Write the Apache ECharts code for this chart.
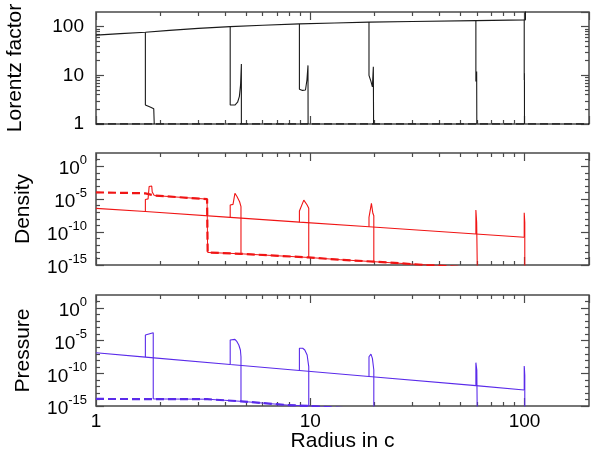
<!DOCTYPE html>
<html><head><meta charset="utf-8">
<script src="https://cdn.jsdelivr.net/npm/echarts@6/dist/echarts.min.js"></script>
<style>html,body{margin:0;padding:0;background:#fff}#c{width:609px;height:457px}</style>
</head><body><div id="c"></div>
<script>
// ---------------- data ----------------
const radiusRange = [1, 200];
const radiusMajorTicks = [1, 10, 100];
const minorMultipliers = [2, 3, 4, 5, 6, 7, 8, 9];
const lorentzRange = [1, 200];
const lorentzMajorTicks = [1, 10, 100];
const powerRange = [-15, 2];            // exponent range of density / pressure axes
const powerLabels = [-15, -10, -5, 0];

// Lorentz factor: wind profile (solid), shells (solid), ambient (dashed)
const lorentzWind = [[1,67],[1.3,72],[1.7,77],[2.2,84],[3,92],[4.23,100],[6,107],[8.9,114],[13,119],[18.8,124],[30,128],[59.3,133],[101,138],[101,400]];
const lorentzShells = [
  [[1.70,77],[1.70,2.45],[1.73,2.3],[1.80,2.2],[1.86,2.05],[1.87,1]],
  [[4.23,100],[4.23,2.45],[4.32,2.33],[4.45,2.45],[4.58,2.8],[4.67,3.7],[4.73,6.5],[4.77,17],[4.77,1]],
  [[8.9,114],[8.9,5.2],[9.2,4.9],[9.35,4.5],[9.5,5.0],[9.65,8.0],[9.76,16],[9.77,1]],
  [[18.8,124],[18.8,10],[19.2,7.5],[19.5,5.8],[19.7,15],[19.75,1]],
  [[59.3,133],[59.3,7.5],[59.6,9],[59.8,12],[59.9,1]],
  [[99.7,138],[99.7,8],[99.9,11],[100,1]]
];
const lorentzAmbient = [[1,1],[200,1]];

// Density
const densityWind = [[1,4.0e-7],[1.7,1.3e-7],[4.23,1.7e-8],[8.9,3.2e-9],[18.8,6.3e-10],[59.3,5.0e-11],[99.7,1.6e-11]];
const densityShells = [
  [[1.70,1.3e-7],[1.70,9e-6],[1.75,1.1e-5],[1.77,8e-4],[1.79,1.1e-3],[1.82,1.0e-3],[1.83,1.2e-4],[1.87,3.5e-5]],
  [[4.23,1.7e-8],[4.23,1.3e-6],[4.36,1.6e-6],[4.45,7.6e-5],[4.55,2.5e-5],[4.68,4e-6],[4.75,7e-7],[4.75,5e-14]],
  [[8.9,3.2e-9],[8.9,1.6e-7],[9.07,2.2e-7],[9.33,7e-6],[9.67,1.3e-6],[9.84,4e-7],[9.84,1.4e-14]],
  [[18.8,6.3e-10],[18.8,1.7e-8],[19.0,2.2e-8],[19.3,2.3e-6],[19.6,7e-8],[19.8,3e-8],[19.8,3.2e-15]],
  [[59.3,5e-11],[59.3,2.2e-7],[59.5,1.5e-7],[59.8,3e-9],[60.2,3e-9],[60.2,4e-16]],
  [[99.7,1.6e-11],[99.7,8.7e-8],[99.9,5e-8],[100.3,3e-9],[100.3,1e-16]]
];
const densityAmbient = [[1,1.07e-4],[1.7,7.6e-5],[1.87,3.5e-5],[3.3,1.0e-5],[3.32,8e-14],[4.75,5e-14],[9.8,1.4e-14],[13.8,6.3e-15],[19.8,3.2e-15],[35,1.0e-15],[200,4e-17]];

// Pressure
const pressureWind = [[1,1.4e-7],[1.7,3.1e-8],[4.23,2.3e-9],[8.9,2.8e-10],[18.8,3.3e-11],[59.3,1.3e-12],[99.7,2.8e-13]];
const pressureShells = [
  [[1.70,3.1e-8],[1.70,7.4e-5],[1.72,1.2e-4],[1.85,1.65e-4],[1.85,1.2e-14]],
  [[4.23,2.3e-9],[4.23,1.3e-5],[4.32,1.8e-5],[4.45,1.6e-5],[4.55,7e-6],[4.64,2.2e-6],[4.72,3.8e-7],[4.75,3.5e-8],[4.75,5.2e-15]],
  [[8.9,2.8e-10],[8.9,6.9e-7],[9.22,6.9e-7],[9.43,3.8e-7],[9.67,6.5e-8],[9.84,1.05e-9],[9.84,1.0e-15]],
  [[18.8,3.3e-11],[18.8,3.5e-8],[19.0,6.5e-8],[19.2,9e-8],[19.5,2e-8],[19.8,3.2e-10],[19.8,1e-16]],
  [[59.3,1.3e-12],[59.3,4.3e-9],[59.6,2.5e-9],[59.9,3.2e-10],[60.2,2e-10],[60.2,1e-17]],
  [[99.7,2.8e-13],[99.7,1.35e-9],[99.9,6e-10],[100.3,5e-11],[100.3,1e-17]]
];
const pressureAmbient = [[1,1.2e-14],[3.3,1.1e-14],[3.35,7.4e-15],[4.75,5.2e-15],[7.8,1.4e-15],[9.84,1.0e-15],[200,3e-18]];

// ---------------- chart ----------------
const FONT = 'Liberation Sans';
const FRAME = '#4a4a4a';
const TICK = {color: FRAME, width: 1.2};
const log10 = v => Math.log(v) / Math.LN10;

function minorLogTicks(range) {
  const out = [];
  const lo = log10(range[0]), hi = log10(range[1]);
  for (let d = Math.floor(lo); d < Math.ceil(hi); d++) {
    minorMultipliers.forEach(m => {
      const v = d + log10(m);
      if (v > lo + 1e-9 && v < hi - 1e-9) out.push(v);
    });
  }
  return out;
}
const radiusMinor = minorLogTicks(radiusRange);
const lorentzMinor = minorLogTicks(lorentzRange);
const powerMinor = [];
for (let p = powerRange[0] + 1; p < powerRange[1]; p++) if (!powerLabels.includes(p)) powerMinor.push(p);

const grids = [
  {left: 96, right: 20, top: 12, height: 112},
  {left: 96, right: 20, top: 153, height: 112},
  {left: 96, right: 20, top: 295, height: 111}
].map(g => Object.assign(g, {show: true, borderColor: FRAME, borderWidth: 1.5, backgroundColor: 'transparent', containLabel: false, outerBoundsMode: 'none'}));

const xAxes = [], yAxes = [], series = [];
const hidden = {axisLine: {show: false, onZero: false}, splitLine: {show: false}, minorTick: {show: false}, minorSplitLine: {show: false}};
const nameStyle = {fontSize: 21, fontFamily: FONT, color: '#000'};

function addX(o) { xAxes.push(Object.assign({}, hidden, o)); return xAxes.length - 1; }
function addY(o) { yAxes.push(Object.assign({}, hidden, o)); return yAxes.length - 1; }

const mainX = [];
for (let g = 0; g < 3; g++) {
  ['bottom', 'top'].forEach(pos => {
    const idx = addX({
      gridIndex: g, type: 'log', logBase: 10, min: radiusRange[0], max: radiusRange[1], position: pos,
      axisTick: {show: true, inside: true, length: 8, lineStyle: TICK},
      axisLabel: {show: g === 2 && pos === 'bottom', margin: 6, fontSize: 19, fontFamily: FONT, color: '#000',
        showMaxLabel: false, formatter: v => radiusMajorTicks.includes(v) ? String(v) : ''},
      name: (g === 2 && pos === 'bottom') ? 'Radius in c' : '', nameLocation: 'middle', nameGap: 25,
      nameMoveOverlap: false, nameTextStyle: nameStyle
    });
    if (pos === 'bottom') mainX.push(idx);
    addX({
      gridIndex: g, type: 'value', min: 0, max: log10(radiusRange[1]), position: pos,
      axisTick: {show: true, inside: true, length: 4, lineStyle: TICK, customValues: radiusMinor},
      axisLabel: {show: false}
    });
  });
}

// Lorentz y axes
const lorentzY = addY({
  gridIndex: 0, type: 'log', logBase: 10, min: lorentzRange[0], max: lorentzRange[1], position: 'left',
  axisTick: {show: true, inside: true, length: 8, lineStyle: TICK},
  axisLabel: {show: true, margin: 12, fontSize: 19, fontFamily: FONT, color: '#000', showMaxLabel: false,
    formatter: v => lorentzMajorTicks.includes(v) ? String(v) : ''},
  name: 'Lorentz factor', nameLocation: 'middle', nameRotate: 90, nameGap: 70, nameMoveOverlap: false, nameTextStyle: nameStyle
});
addY({gridIndex: 0, type: 'log', logBase: 10, min: lorentzRange[0], max: lorentzRange[1], position: 'right',
  axisTick: {show: true, inside: true, length: 8, lineStyle: TICK}, axisLabel: {show: false}});
['left', 'right'].forEach(pos => addY({gridIndex: 0, type: 'value', min: 0, max: log10(lorentzRange[1]), position: pos,
  axisTick: {show: true, inside: true, length: 4, lineStyle: TICK, customValues: lorentzMinor}, axisLabel: {show: false}}));

// density / pressure y axes: data on log axis, ticks & labels from exponent overlay axes
const powerAxisData = [];
['Density', 'Pressure'].forEach((title, k) => {
  const g = k + 1;
  powerAxisData.push(addY({gridIndex: g, type: 'log', logBase: 10, min: Math.pow(10, powerRange[0]), max: Math.pow(10, powerRange[1]),
    position: 'left', axisTick: {show: false}, axisLabel: {show: false}}));
  ['left', 'right'].forEach(pos => {
    addY({gridIndex: g, type: 'value', min: powerRange[0], max: powerRange[1], position: pos,
      axisTick: {show: true, inside: true, length: 8, lineStyle: TICK, customValues: powerLabels},
      axisLabel: {show: pos === 'left', customValues: powerLabels, margin: 9,
        formatter: v => '{b|10}{s|' + v + '}',
        rich: {
          b: {fontSize: 19, fontFamily: FONT, color: '#000', lineHeight: 25, verticalAlign: 'bottom'},
          s: {fontSize: 13, fontFamily: FONT, color: '#000', verticalAlign: 'top'}
        }},
      name: pos === 'left' ? title : '', nameLocation: 'middle', nameRotate: 90, nameGap: 62, nameMoveOverlap: false, nameTextStyle: nameStyle
    });
    addY({gridIndex: g, type: 'value', min: powerRange[0], max: powerRange[1], position: pos,
      axisTick: {show: true, inside: true, length: 4, lineStyle: TICK, customValues: powerMinor}, axisLabel: {show: false}});
  });
});

function line(g, yIdx, data, color, width, dashed) {
  series.push({
    type: 'line', xAxisIndex: mainX[g], yAxisIndex: yIdx, data: data,
    symbol: 'none', showSymbol: false, clip: true, silent: true, animation: false,
    lineStyle: {color: color, width: width, type: dashed ? [8, 4] : 'solid'}, z: dashed ? 2 : 3
  });
}
function panel(g, yIdx, wind, shells, ambient, color, dashWidth, overlay) {
  line(g, yIdx, ambient, color, dashWidth, true);
  line(g, yIdx, wind, color, 1.1, false);
  shells.forEach(s => line(g, yIdx, s, color, 1.1, false));
  if (overlay) {
    const first = shells[0];
    const end = first[first.length - 1];
    line(g, yIdx, [end].concat(ambient.filter(p => p[0] > end[0])), color, 1, false);
  }
}
panel(0, lorentzY, lorentzWind, lorentzShells, lorentzAmbient, '#1a1a1a', 1.5, false);
panel(1, powerAxisData[0], densityWind, densityShells, densityAmbient, '#f01515', 2.2, true);
panel(2, powerAxisData[1], pressureWind, pressureShells, pressureAmbient, '#5a2bea', 2.2, true);

const chart = echarts.init(document.getElementById('c'), null, {renderer: 'canvas'});
chart.setOption({animation: false, backgroundColor: '#fff', grid: grids, xAxis: xAxes, yAxis: yAxes, series: series});
</script></body></html>
